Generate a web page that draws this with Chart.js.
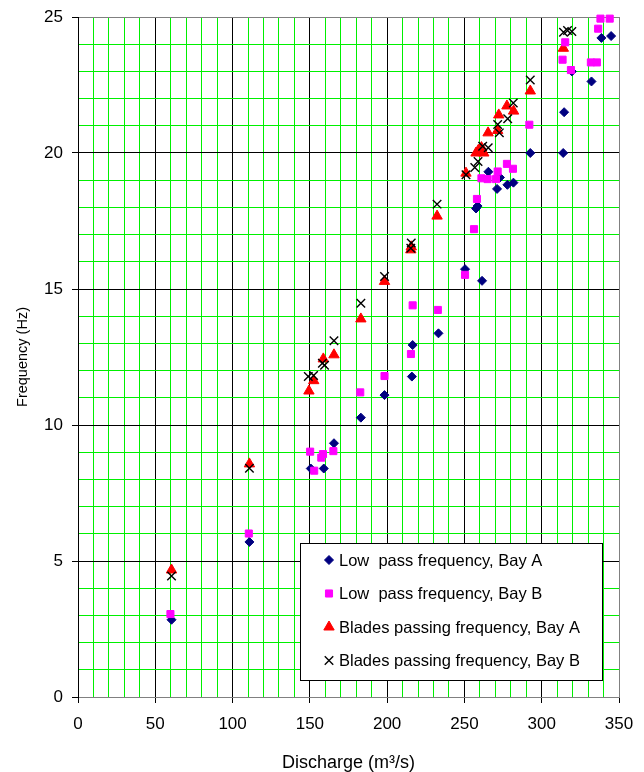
<!DOCTYPE html>
<html>
<head>
<meta charset="utf-8">
<script src="https://cdn.jsdelivr.net/npm/chart.js@4"></script>
<style>
  body { margin: 0; background: #fff; }
  canvas { display: block; }
</style>
</head>
<body>
<canvas id="chart" width="644" height="772"></canvas>
<script>
// ---- DATA ----
const lowPassAX = [60.5, 110.9, 150.6, 159, 165.6, 183, 198.3, 216, 216.5, 233.2, 250.4, 257.5, 258.5, 261.4, 265.5, 271.1, 273, 277.8, 281.7, 292.6, 313.9, 314.5, 319.5, 332.2, 338.6, 344.9];
const lowPassAY = [2.84, 5.7, 8.4, 8.4, 9.33, 10.27, 11.1, 11.78, 12.94, 13.37, 15.73, 17.96, 18.05, 15.3, 19.31, 18.68, 19.1, 18.83, 18.91, 20.0, 20.0, 21.5, 23.0, 22.63, 24.23, 24.3];

const lowPassBX = [59.8, 110.5, 150.2, 152.8, 157.4, 158.5, 165.2, 182.6, 198.3, 215.4, 216.5, 232.8, 250.4, 256.2, 258.1, 261, 265, 270.4, 271.5, 277.5, 281.4, 292, 313.5, 315.2, 318.9, 331.8, 335.7, 336.5, 338, 344];
const lowPassBY = [3.05, 6.01, 9.02, 8.32, 8.8, 8.93, 9.04, 11.2, 11.8, 12.61, 14.4, 14.23, 15.52, 17.2, 18.31, 19.07, 19.04, 19.04, 19.32, 19.6, 19.42, 21.04, 23.43, 24.07, 23.05, 23.33, 23.33, 24.57, 24.94, 24.94];

const bladesAX = [60.5, 110.9, 149.4, 152.5, 158.7, 165.6, 183, 198.3, 215.3, 215.6, 232.3, 251, 257.5, 259, 261, 262.5, 265.3, 271.5, 272.2, 277.5, 281.8, 292.6, 314];
const bladesAY = [4.67, 8.57, 11.25, 11.63, 12.43, 12.58, 13.9, 15.28, 16.44, 16.55, 17.68, 19.26, 20.0, 20.1, 20.2, 20.0, 20.74, 20.83, 21.4, 21.73, 21.54, 22.28, 23.85];

const bladesBX = [60.5, 110.9, 149, 152.4, 158.1, 159.5, 165.6, 183, 198.3, 215.3, 215.6, 232.3, 251, 256.7, 258.8, 261.8, 265.4, 271.5, 272.6, 278, 281.6, 292.6, 314.1, 316.7, 319.5];
const bladesBY = [4.45, 8.41, 11.78, 11.82, 12.27, 12.2, 13.1, 14.48, 15.46, 16.5, 16.69, 18.12, 19.2, 19.47, 19.69, 20.25, 20.19, 21.05, 20.74, 21.26, 21.84, 22.68, 24.44, 24.5, 24.47];

const seriesLabels = [
  'Low  pass frequency, Bay A',
  'Low  pass frequency, Bay B',
  'Blades passing frequency, Bay A',
  'Blades passing frequency, Bay B'
];

const xMin = 0, xMax = 350, xMajor = 50, xMinor = 10;
const yMin = 0, yMax = 25, yMajor = 5, yMinor = 1;

const FONT = '"Liberation Sans", Arial, sans-serif';
const GREEN = '#00f000';

const toPoints = (xs, ys) => xs.map((x, i) => ({ x, y: ys[i] }));

// grid colour: black on major ticks, grey on the outer frame, green otherwise
function gridColor(major, max) {
  return ctx => {
    const v = ctx.tick.value;
    if (v === max) return '#808080';
    return v % major === 0 ? '#000000' : GREEN;
  };
}

// legend box drawn inside the plot area (bottom right)
const insideLegend = {
  id: 'insideLegend',
  afterDatasetsDraw(chart) {
    const { ctx, chartArea } = chart;
    const left = chartArea.left + 222, top = chartArea.bottom - 154;
    const w = 302, h = 137;
    ctx.save();
    ctx.fillStyle = '#fff';
    ctx.strokeStyle = '#000';
    ctx.lineWidth = 1;
    ctx.fillRect(left, top, w, h);
    ctx.strokeRect(left + 0.5, top + 0.5, w, h);
    ctx.font = '16.5px ' + FONT;
    ctx.textBaseline = 'middle';
    chart.data.datasets.forEach((ds, i) => {
      const y = top + 17 + i * 33.5;
      ctx.fillStyle = ds.backgroundColor;
      ctx.strokeStyle = ds.borderColor;
      ctx.lineWidth = ds.borderWidth;
      Chart.helpers.drawPoint(ctx, {
        pointStyle: ds.pointStyle, radius: ds.pointRadius, rotation: 0, borderWidth: ds.borderWidth
      }, left + 29, y);
      ctx.fillStyle = '#000';
      ctx.fillText(ds.label, left + 39, y + 1);
    });
    ctx.restore();
  }
};

new Chart(document.getElementById('chart'), {
  type: 'scatter',
  data: {
    datasets: [
      {
        label: seriesLabels[0], data: toPoints(lowPassAX, lowPassAY),
        pointStyle: 'rectRot', pointRadius: 4.5, backgroundColor: '#000080', borderColor: '#000080', borderWidth: 1,
        order: 4, clip: false
      },
      {
        label: seriesLabels[1], data: toPoints(lowPassBX, lowPassBY),
        pointStyle: 'rect', pointRadius: 5, backgroundColor: '#ff00ff', borderColor: '#ff00ff', borderWidth: 1,
        order: 2, clip: false
      },
      {
        label: seriesLabels[2], data: toPoints(bladesAX, bladesAY),
        pointStyle: 'triangle', pointRadius: 6, backgroundColor: '#ff0000', borderColor: '#ff0000', borderWidth: 1,
        order: 3, clip: false
      },
      {
        label: seriesLabels[3], data: toPoints(bladesBX, bladesBY),
        pointStyle: 'crossRot', pointRadius: 6, backgroundColor: '#000', borderColor: '#000', borderWidth: 1.4,
        order: 1, clip: false
      }
    ]
  },
  options: {
    responsive: false,
    animation: false,
    layout: { padding: { top: 17, right: 25, left: 0, bottom: 0 } },
    plugins: {
      legend: { display: false },
      tooltip: { enabled: false }
    },
    scales: {
      x: {
        type: 'linear', min: xMin, max: xMax,
        afterFit: s => { s.height = 75; s.paddingLeft = 0; s.paddingRight = 0; },
        border: { color: '#808080', width: 1 },
        grid: {
          color: gridColor(xMajor, xMax),
          tickColor: ctx => ctx.tick.value % xMajor === 0 ? '#000' : 'rgba(0,0,0,0)',
          tickLength: 6, lineWidth: 1
        },
        ticks: {
          stepSize: xMinor, autoSkip: false, maxRotation: 0, padding: 11,
          color: '#000', font: { family: FONT, size: 17 },
          callback: v => v % xMajor === 0 ? v : ''
        },
        title: {
          display: true, text: 'Discharge (m³/s)', color: '#000',
          font: { family: FONT, size: 18, lineHeight: 1 }, padding: { top: 0, bottom: 0 }
        }
      },
      y: {
        type: 'linear', min: yMin, max: yMax,
        afterFit: s => { s.width = 78; s.paddingTop = 0; s.paddingBottom = 0; },
        border: { color: '#000', width: 1 },
        grid: {
          color: gridColor(yMajor, yMax),
          tickColor: ctx => ctx.tick.value % yMajor === 0 ? '#000' : 'rgba(0,0,0,0)',
          tickLength: 6, lineWidth: 1
        },
        ticks: {
          stepSize: yMinor, autoSkip: false, padding: 9,
          color: '#000', font: { family: FONT, size: 17 },
          callback: v => v % yMajor === 0 ? v : ''
        },
        title: {
          display: true, text: 'Frequency (Hz)', color: '#000',
          font: { family: FONT, size: 14.5 }, padding: { top: 14, bottom: 0 }
        }
      }
    }
  },
  plugins: [insideLegend]
});
</script>
</body>
</html>
